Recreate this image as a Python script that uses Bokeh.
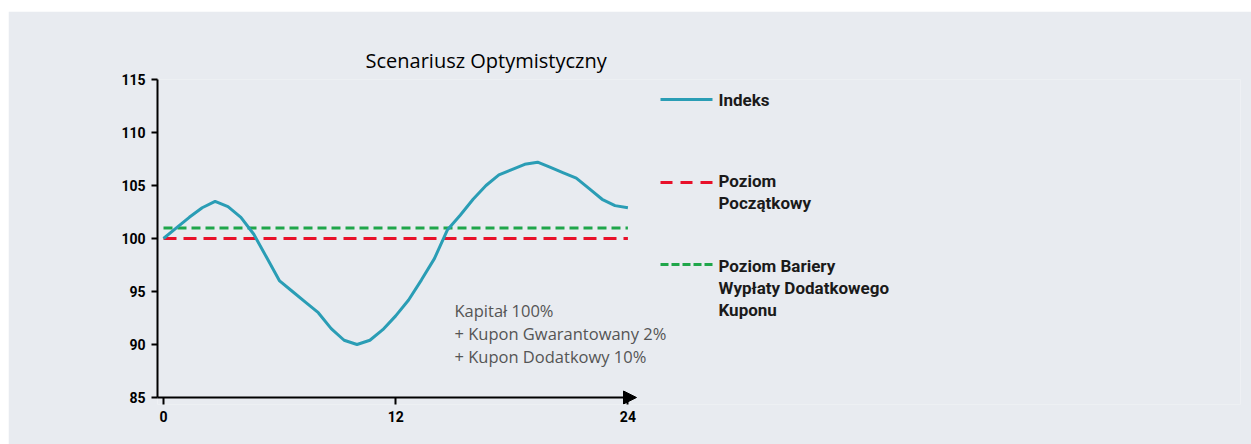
from bokeh.plotting import figure
from bokeh.models import Range1d, FixedTicker, Arrow, NormalHead, Spacer
from bokeh.layouts import row, column
from bokeh.embed import file_html
from bokeh.resources import INLINE
from bokeh.core.properties import value

# ---- data ----
periods = [0, 1, 2, 3, 4, 5, 6, 7, 8, 9, 10, 11, 12, 13, 14, 15, 16, 17, 18,
           19, 20, 21, 22, 23, 24, 25, 26, 27, 28, 29, 30, 31, 32, 33, 34, 35, 36]
index_values = [100.0, 101.0, 102.0, 102.9, 103.5, 103.0, 102.0, 100.4, 98.2, 96.0,
                95.0, 94.0, 93.0, 91.5, 90.4, 90.0, 90.4, 91.4, 92.7, 94.2,
                96.1, 98.1, 100.8, 102.2, 103.7, 105.0, 106.0, 106.5, 107.0, 107.2,
                106.7, 106.2, 105.7, 104.7, 103.7, 103.1, 102.9]
initial_level = 100
barrier_level = 101
x_tick_pos = [0, 18, 36]
x_tick_labels = ["0", "12", "24"]
y_ticks = [85, 90, 95, 100, 105, 110, 115]
title_text = "Scenariusz  Optymistyczny"
note_text = "Kapitał 100%\n+ Kupon Gwarantowany 2%\n+ Kupon Dodatkowy 10%"
legend_labels = ["Indeks", "Poziom\nPoczątkowy", "Poziom Bariery\nWypłaty Dodatkowego\nKuponu"]

BG = "#e8ebf0"
TEAL = "#2a9db5"
RED = "#e8102a"
GREEN = "#1fa64a"
FONT = "Roboto"

# layout helpers: page pixel -> data units (figure placed at page (8, 11))
def dx(px):
    return (px - 163) / 12.9

def dy(py):
    return 85 + (397 - py) / 10.6

p = figure(width=1243, height=433, output_backend="svg", toolbar_location=None,
           x_range=Range1d(dx(157), dx(1240)), y_range=Range1d(dy(404), 115),
           min_border_left=149, min_border_right=11, min_border_top=68, min_border_bottom=40)
p.background_fill_color = BG
p.border_fill_color = BG
p.outline_line_color = None
p.grid.visible = False

p.title.text = title_text
p.title.align = "left"
p.title.offset = 208
p.title.text_font = "Open Sans"
p.title.text_font_size = "20px"
p.title.text_font_style = "normal"
p.title.text_color = "black"
p.title.standoff = 12

for ax in (p.xaxis[0], p.yaxis[0]):
    ax.axis_line_width = 2
    ax.axis_line_color = "black"
    ax.major_tick_line_width = 2
    ax.major_tick_line_color = "black"
    ax.major_tick_out = 6
    ax.major_tick_in = 0
    ax.minor_tick_line_color = None
    ax.major_label_text_font = FONT
    ax.major_label_text_font_style = "bold"
    ax.major_label_text_font_size = "14px"
    ax.major_label_text_color = "black"

p.xaxis.axis_line_color = None
p.xaxis.major_tick_in = 7
p.xaxis.major_tick_out = 0
p.xaxis.ticker = FixedTicker(ticks=x_tick_pos)
p.xaxis.major_label_overrides = {t: l for t, l in zip(x_tick_pos, x_tick_labels)}
p.xaxis.major_label_standoff = 6
p.yaxis.ticker = FixedTicker(ticks=y_ticks)
p.yaxis.bounds = (85, 115)
p.yaxis.major_label_standoff = 6

p.line([periods[0], periods[-1]], [barrier_level, barrier_level], line_color=GREEN,
       line_width=3, line_dash="9 5")
p.line([periods[0], periods[-1]], [initial_level, initial_level], line_color=RED,
       line_width=3, line_dash="13 7")
p.line(periods, index_values, line_color=TEAL, line_width=3)

# x axis with arrow head
p.add_layout(Arrow(end=NormalHead(size=13, fill_color="black", line_color="black", line_width=1),
                   x_start=dx(156), y_start=85, x_end=dx(636), y_end=85,
                   line_width=2, line_color="black"))

# annotation text
p.text(x=[dx(454)], y=[dy(298)], text=[note_text], text_align="left",
       text_baseline="top", text_font=value("Open Sans"), text_font_size="16.5px",
       text_color="#555555", text_line_height=1.02)

# legend (drawn manually)
leg_y = [99, 182, 264]
p.line([dx(660), dx(712)], [dy(leg_y[0])] * 2, line_color=TEAL, line_width=3)
p.line([dx(660), dx(712)], [dy(leg_y[1])] * 2, line_color=RED, line_width=3, line_dash="12 8")
p.line([dx(660), dx(712)], [dy(leg_y[2])] * 2, line_color=GREEN, line_width=3, line_dash="8 3")
p.text(x=[dx(718)] * 3, y=[dy(89), dy(170), dy(255)],
       text=legend_labels, text_align="left", text_baseline="top",
       text_font=value(FONT), text_font_size="17px", text_font_style="bold",
       text_color="#1a1a1a", text_line_height=1.11)

layout = column(Spacer(height=11), row(Spacer(width=8), p))
open("out.html", "w").write(file_html(layout, INLINE))
